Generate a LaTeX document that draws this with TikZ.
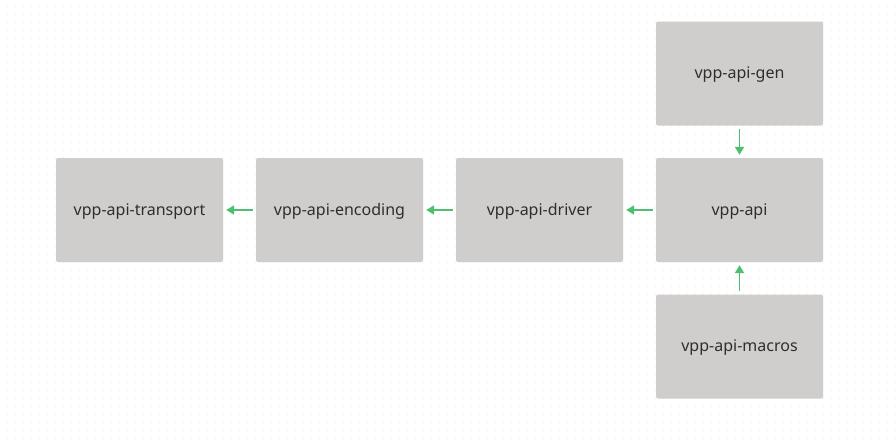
\documentclass[tikz,border=0pt]{standalone}
\usepackage{fontspec}
\setmainfont{Noto Sans}
\usetikzlibrary{arrows.meta}
\definecolor{boxgray}{HTML}{D0CDCD}
\definecolor{flowgreen}{HTML}{4CC06E}
\definecolor{dotgray}{HTML}{F0F0F0}
\begin{document}
\begin{tikzpicture}[
    x=1pt, y=-1pt,
    box/.style={rectangle, fill=boxgray, rounded corners=2pt, minimum width=167pt, minimum height=104pt, text height=12pt, text depth=2pt, align=center, font=\fontsize{16}{18}\selectfont, text=black!82},
    arrow/.style={-{Triangle[length=8pt, width=9pt]}, line width=1.6pt, flowgreen, shorten <=3pt, shorten >=3pt},
]
    % Canvas and dot grid
    \useasboundingbox[fill=white] (0,0) rectangle (896,439);
    \foreach \gx in {7,15,...,895} {
        \foreach \gy in {6,14,...,438} {
            \fill[dotgray] (\gx,\gy) circle (0.9pt);
        }
    }

    % Boxes
    \node[box] (transport) at (139.5, 210) {vpp-api-transport};
    \node[box] (encoding) at (339.5, 210) {vpp-api-encoding};
    \node[box] (driver) at (539.5, 210) {vpp-api-driver};
    \node[box] (api) at (739.5, 210) {vpp-api};
    \node[box] (gen) at (739.5, 73.5) {vpp-api-gen};
    \node[box] (macros) at (739.5, 346.5) {vpp-api-macros};

    % Flow
    \draw[arrow] (gen) -- (api);
    \draw[arrow] (macros) -- (api);
    \draw[arrow] (api) -- (driver);
    \draw[arrow] (driver) -- (encoding);
    \draw[arrow] (encoding) -- (transport);
\end{tikzpicture}
\end{document}
